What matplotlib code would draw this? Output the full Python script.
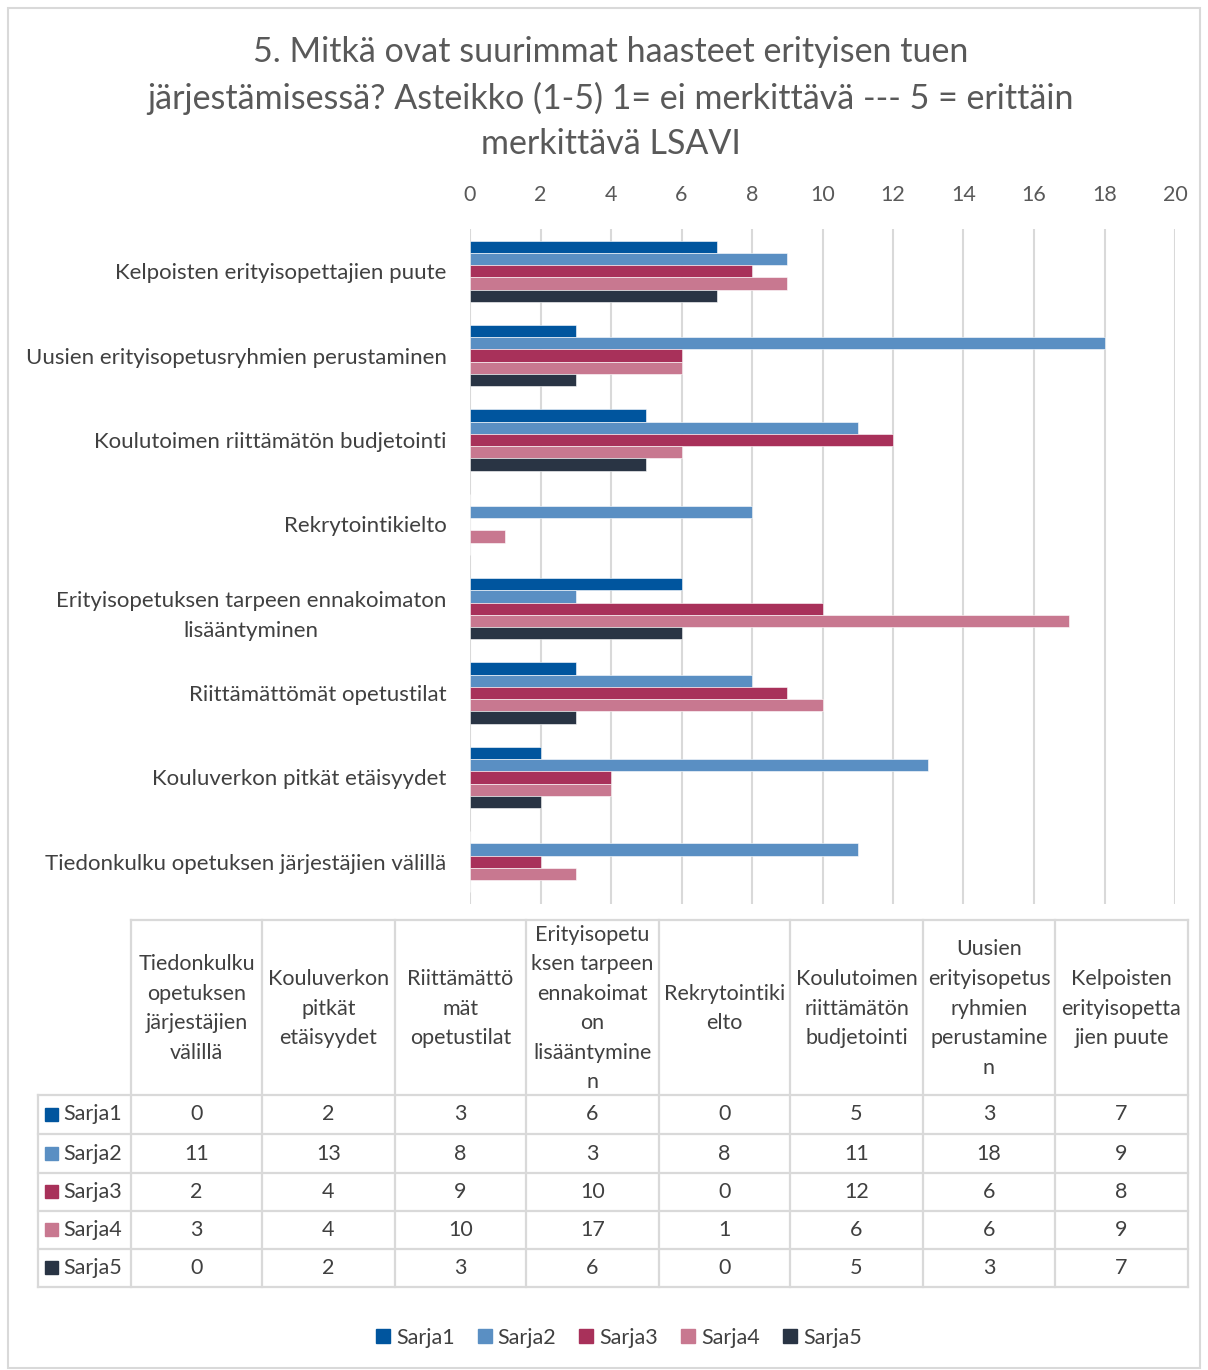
import numpy as np
import matplotlib
matplotlib.use("Agg")
import matplotlib.pyplot as plt
from matplotlib.lines import Line2D

plt.rcParams['font.family'] = ['Lato', 'DejaVu Sans']

# ─── data (table order = bottom-to-top in chart) ─────────────────────────────
categories = [
    "Tiedonkulku opetuksen järjestäjien välillä",
    "Kouluverkon pitkät etäisyydet",
    "Riittämättömät opetustilat",
    "Erityisopetuksen tarpeen ennakoimaton\nlisääntyminen",
    "Rekrytointikielto",
    "Koulutoimen riittämätön budjetointi",
    "Uusien erityisopetusryhmien perustaminen",
    "Kelpoisten erityisopettajien puute",
]
table_headers = [
    "Tiedonkulku\nopetuksen\njärjestäjien\nvälillä",
    "Kouluverkon\npitkät\netäisyydet",
    "Riittämättö\nmät\nopetustilat",
    "Erityisopetu\nksen tarpeen\nennakoimat\non\nlisääntymine\nn",
    "Rekrytointiki\nelto",
    "Koulutoimen\nriittämätön\nbudjetointi",
    "Uusien\nerityisopetus\nryhmien\nperustamine\nn",
    "Kelpoisten\nerityisopetta\njien puute",
]
series_names = ["Sarja1", "Sarja2", "Sarja3", "Sarja4", "Sarja5"]
sarja1 = [0, 2, 3, 6, 0, 5, 3, 7]
sarja2 = [11, 13, 8, 3, 8, 11, 18, 9]
sarja3 = [2, 4, 9, 10, 0, 12, 6, 8]
sarja4 = [3, 4, 10, 17, 1, 6, 6, 9]
sarja5 = [0, 2, 3, 6, 0, 5, 3, 7]
series = [sarja1, sarja2, sarja3, sarja4, sarja5]
colors = ["#00559E", "#5A8FC3", "#A8315A", "#C87890", "#293444"]

title = ("5. Mitkä ovat suurimmat haasteet erityisen tuen\n"
         "järjestämisessä? Asteikko (1-5) 1= ei merkittävä --- 5 = erittäin\n"
         "merkittävä LSAVI")

W, H = 1208, 1370
fig = plt.figure(figsize=(W / 100, H / 100), dpi=100)
fig.patch.set_facecolor("white")

TXT = "#595959"
DARK = "#404040"
GRID = "#D9D9D9"

# ─── bar chart ───────────────────────────────────────────────────────────────
ax_l, ax_r, ax_t, ax_b = 470, 1175, 229, 904
ax = fig.add_axes([ax_l / W, 1 - ax_b / H, (ax_r - ax_l) / W, (ax_b - ax_t) / H])
y = np.arange(len(categories))
h = 0.145
for i, (vals, col) in enumerate(zip(series, colors)):
    ax.barh(y + (2 - i) * h, vals, height=h, color=col, zorder=3,
            edgecolor="white", linewidth=0.4)
ax.set_xlim(0, 20)
ax.set_ylim(-0.5, len(categories) - 0.5)
ax.set_xticks(range(0, 21, 2))
ax.xaxis.tick_top()
ax.tick_params(axis="x", length=0, labelsize=15.5, labelcolor=TXT, pad=17)
ax.set_yticks(y)
ax.set_yticklabels(categories, fontsize=16, color=DARK,
                   multialignment="center", linespacing=1.65)
ax.tick_params(axis="y", length=0, pad=17)
ax.grid(axis="x", color=GRID, lw=1.5, zorder=0)
for s in ax.spines.values():
    s.set_visible(False)

fig.text(611 / W, 1 - 98 / H, title, ha="center", va="center",
         fontsize=24.5, color=TXT, linespacing=1.5)

# ─── data table (overlay in pixel coordinates) ───────────────────────────────
ov = fig.add_axes([0, 0, 1, 1], zorder=5)
ov.set_xlim(0, W)
ov.set_ylim(H, 0)
ov.axis("off")

col_edges = [131, 262, 395, 526, 659, 790, 923, 1055, 1188]
row_edges = [920, 1095, 1134, 1173, 1211, 1249, 1287]
left_edge = 38
lk = dict(color=GRID, lw=1.6, solid_capstyle="projecting")
ov.plot([col_edges[0], col_edges[-1]], [row_edges[0]] * 2, **lk)
for ry in row_edges[1:]:
    ov.plot([left_edge, col_edges[-1]], [ry, ry], **lk)
for cx in col_edges:
    ov.plot([cx, cx], [row_edges[0], row_edges[-1]], **lk)
ov.plot([left_edge, left_edge], [row_edges[1], row_edges[-1]], **lk)

hy = (row_edges[0] + row_edges[1]) / 2 + 1
for j, lab in enumerate(table_headers):
    cx = (col_edges[j] + col_edges[j + 1]) / 2
    ov.text(cx, hy, lab, ha="center", va="center", fontsize=15.5,
            color=DARK, linespacing=1.6)

for i, (name, vals, col) in enumerate(zip(series_names, series, colors)):
    ry = (row_edges[i + 1] + row_edges[i + 2]) / 2
    ov.add_patch(plt.Rectangle((45, ry - 7), 13, 13, color=col))
    ov.text(63, ry, name, ha="left", va="center", fontsize=15.5, color=DARK)
    for j, v in enumerate(vals):
        cx = (col_edges[j] + col_edges[j + 1]) / 2
        ov.text(cx, ry, str(v), ha="center", va="center", fontsize=15.5,
                color=DARK)

# outer frame
ov.add_patch(plt.Rectangle((8, 8), W - 16, H - 10, fill=False,
                           edgecolor=GRID, lw=1.5))

# ─── legend ──────────────────────────────────────────────────────────────────
handles = [Line2D([], [], marker="s", ls="", color=c, markersize=10)
           for c in colors]
fig.legend(handles, series_names, loc="center", ncol=5,
           bbox_to_anchor=(617 / W, 1 - 1338 / H), frameon=False,
           fontsize=15.5, labelcolor=DARK, handletextpad=0.1,
           columnspacing=0.9, handlelength=1.0)

fig.savefig("out.png", dpi=100)
